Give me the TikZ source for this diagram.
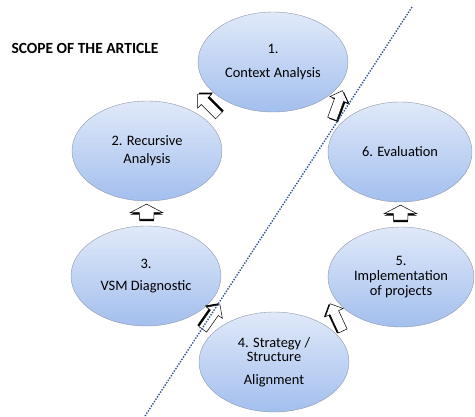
\documentclass[tikz,border=0pt]{standalone}
\usepackage{fontspec}
\setmainfont{Carlito}
\usetikzlibrary{shapes.geometric,shapes.arrows,shadows,calc}
\definecolor{ovaltop}{HTML}{E0E9F9}
\definecolor{ovalbot}{HTML}{A3BFEE}
\definecolor{ovalline}{HTML}{8F98A8}
\definecolor{cutline}{HTML}{2F5597}
\tikzset{
  phase/.style={ellipse,draw=ovalline,top color=ovaltop,bottom color=ovalbot,
    minimum width=150pt,minimum height=100pt,inner sep=0pt,align=center,
    font=\fontsize{14.4}{17}\selectfont},
  turnarrow/.style={single arrow,draw=black,fill=white,line width=0.5pt,
    inner xsep=0pt,inner ysep=4.5pt,minimum height=30pt,
    single arrow head extend=5pt,single arrow head indent=0pt},
  flatarrow/.style={turnarrow,inner ysep=7pt,minimum height=15pt,
    single arrow head extend=9pt,single arrow tip angle=125},
  edgeshade/.style 2 args={drop shadow={shadow xshift=#1,shadow yshift=#2,
    opacity=1,fill=black}},
}
\begin{document}
\begin{tikzpicture}[x=1pt,y=-1pt]
\useasboundingbox (0,0) rectangle (475,416);
\node[anchor=west,font=\bfseries\fontsize{15.5}{18}\selectfont] (scope) at (8,48) {SCOPE OF THE ARTICLE};
% the six phases
\node[phase] (ctx) at (273,62) {1.\\[7pt]Context Analysis};
\node[phase] (rec) at (147,151) {2. Recursive\\[1pt]Analysis};
\node[phase] (vsm) at (146,276) {3.\\[5pt]VSM Diagnostic};
\node[phase] (strat) at (274,362) {4. Strategy /\\[-3pt]Structure\\[6pt]Alignment};
\node[phase,minimum width=146pt] (impl) at (401,277) {5.\\[-2pt]Implementation\\[-2pt]of projects};
\node[phase,minimum width=144pt] (eval) at (400,152) {6. Evaluation};
% block arrows
\node[turnarrow,rotate=135,edgeshade={1.5pt}{1.5pt}] (a12) at ($(ctx)!0.5!(rec)$) {};
\node[turnarrow,rotate=70,edgeshade={1.5pt}{-1.5pt}] (a61) at ($(eval)!0.5!(ctx)$) {};
\node[flatarrow,rotate=90,edgeshade={0pt}{-2pt}] (a32) at ($(vsm)!0.5!(rec)$) {};
\node[flatarrow,rotate=90,edgeshade={0pt}{-2pt}] (a56) at ($(impl)!0.5!(eval)$) {};
\node[turnarrow,rotate=55,edgeshade={-1.5pt}{1.5pt}] (a43) at ($(strat)!0.5!(vsm)$) {};
\node[turnarrow,rotate=115,edgeshade={-1.5pt}{-0.5pt}] (a45) at ($(strat)!0.5!(impl)$) {};
% cut line
\coordinate (cuttop) at (412,7);
\coordinate (cutbot) at (145,416);
\draw[cutline,line width=1.4pt,dash pattern=on 1.4pt off 1.4pt] (cuttop) -- (cutbot);
\end{tikzpicture}
\end{document}
